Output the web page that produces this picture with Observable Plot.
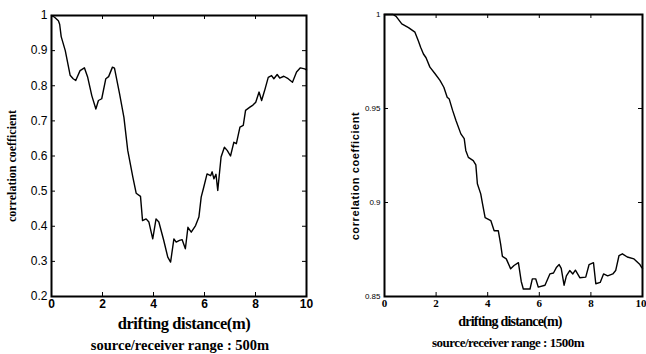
<!DOCTYPE html>
<html>
<head>
<meta charset="utf-8">
<script src="https://cdn.jsdelivr.net/npm/d3@7"></script>
<script src="https://cdn.jsdelivr.net/npm/@observablehq/plot@0.6"></script>
<style>
  html, body { margin: 0; padding: 0; background: #fff; }
  #wrap { position: relative; width: 646px; height: 354px; overflow: hidden; background: #fff; }
  .panel { position: absolute; top: 0; }
  .lbl { position: absolute; white-space: nowrap; color: #000; font-family: "Liberation Serif", "DejaVu Serif", serif; font-weight: bold; transform: translate(-50%, -50%); }
  .ylbl { position: absolute; white-space: nowrap; color: #000; font-weight: bold; transform: translate(-50%, -50%) rotate(-90deg); }
</style>
</head>
<body>
<div id="wrap"></div>
<script>
// ---- Left panel: source/receiver range 500 m ----
const leftDist = [0, 0.12, 0.27, 0.32, 0.38, 0.54, 0.73, 0.85, 0.95, 1.12, 1.29, 1.42, 1.58, 1.74, 1.84, 1.97, 2.13, 2.24, 2.39, 2.47, 2.67, 2.84, 2.99, 3.19, 3.32, 3.49, 3.57, 3.71, 3.82, 3.97, 4.1, 4.21, 4.4, 4.56, 4.67, 4.8, 4.89, 5.02, 5.12, 5.25, 5.35, 5.48, 5.65, 5.78, 5.87, 5.97, 6.1, 6.24, 6.3, 6.37, 6.45, 6.52, 6.65, 6.78, 6.89, 7.02, 7.15, 7.25, 7.39, 7.52, 7.61, 7.78, 7.9, 8.01, 8.14, 8.24, 8.36, 8.5, 8.63, 8.72, 8.85, 8.95, 9.11, 9.28, 9.45, 9.61, 9.76, 9.93, 10];
const leftCorr = [1.0, 0.995, 0.985, 0.975, 0.94, 0.90, 0.83, 0.82, 0.815, 0.843, 0.851, 0.824, 0.772, 0.734, 0.758, 0.763, 0.82, 0.826, 0.853, 0.85, 0.777, 0.71, 0.616, 0.54, 0.494, 0.485, 0.416, 0.421, 0.412, 0.364, 0.421, 0.412, 0.36, 0.312, 0.298, 0.364, 0.355, 0.36, 0.362, 0.336, 0.397, 0.383, 0.402, 0.426, 0.483, 0.511, 0.549, 0.544, 0.555, 0.535, 0.548, 0.502, 0.597, 0.625, 0.616, 0.60, 0.639, 0.635, 0.682, 0.687, 0.73, 0.739, 0.745, 0.753, 0.782, 0.758, 0.787, 0.824, 0.829, 0.82, 0.832, 0.822, 0.827, 0.82, 0.81, 0.839, 0.851, 0.848, 0.845];
const leftXTicks = [0, 2, 4, 6, 8, 10];
const leftYTicks = [0.2, 0.3, 0.4, 0.5, 0.6, 0.7, 0.8, 0.9, 1];
const leftYTickLabels = ["0.2", "0.3", "0.4", "0.5", "0.6", "0.7", "0.8", "0.9", "1"];

// ---- Right panel: source/receiver range 1500 m ----
const rightDist = [0, 0.33, 0.45, 0.67, 0.93, 1.18, 1.31, 1.4, 1.51, 1.61, 1.76, 1.96, 2.15, 2.3, 2.43, 2.51, 2.64, 2.77, 2.96, 3.09, 3.15, 3.25, 3.44, 3.54, 3.6, 3.73, 3.8, 3.9, 4.12, 4.25, 4.41, 4.5, 4.57, 4.72, 4.89, 5.02, 5.19, 5.3, 5.38, 5.64, 5.73, 5.86, 5.96, 6.22, 6.41, 6.55, 6.67, 6.77, 6.85, 6.96, 7.05, 7.18, 7.3, 7.4, 7.57, 7.8, 7.93, 8.1, 8.19, 8.36, 8.49, 8.65, 8.85, 8.96, 9.09, 9.22, 9.41, 9.67, 9.9, 9.96, 10];
const rightCorr = [1.0, 1.0, 0.999, 0.995, 0.993, 0.9906, 0.986, 0.9826, 0.979, 0.977, 0.972, 0.9685, 0.965, 0.9613, 0.956, 0.955, 0.949, 0.9436, 0.9365, 0.934, 0.9277, 0.924, 0.9223, 0.920, 0.91, 0.9046, 0.8993, 0.892, 0.8904, 0.885, 0.885, 0.878, 0.8713, 0.87, 0.8647, 0.8665, 0.868, 0.858, 0.854, 0.854, 0.8594, 0.8594, 0.855, 0.856, 0.862, 0.8625, 0.8656, 0.867, 0.865, 0.856, 0.861, 0.8638, 0.862, 0.864, 0.86, 0.8603, 0.867, 0.868, 0.8568, 0.8575, 0.862, 0.861, 0.862, 0.8638, 0.8718, 0.8727, 0.871, 0.87, 0.867, 0.8656, 0.865];
const rightXTicks = [0, 2, 4, 6, 8, 10];
const rightYTicks = [0.85, 0.9, 0.95, 1];
const rightYTickLabels = ["0.85", "0.9", "0.95", "1"];

const texts = {
  xLabel: "drifting distance(m)",
  yLabel: "correlation coefficient",
  leftCaption: "source/receiver range : 500m",
  rightCaption: "source/receiver range : 1500m"
};

const leftData = leftDist.map((d, i) => ({d, c: leftCorr[i]}));
const rightData = rightDist.map((d, i) => ({d, c: rightCorr[i]}));

function panel({data, xTicks, yTicks, yLabels, yDomain, width, height, mL, mR, mT, mB, yFont, xFont, xFontFamily, yFontFamily, lastEnd}) {
  const plotW = width - mL - mR;
  const plotH = height - mT - mB;
  const xMain = lastEnd ? xTicks.slice(0, -1) : xTicks;
  const marks = [
    Plot.axisX({ticks: xMain, tickSize: 0, tickPadding: 3, label: null, tickFormat: d => String(d),
      fontSize: xFont, fontWeight: "bold", fontFamily: xFontFamily}),
    Plot.axisY({ticks: yTicks, tickSize: 0, tickPadding: 4, label: null,
      tickFormat: d => yLabels[yTicks.indexOf(d)] ?? "", fontSize: yFont, fontFamily: yFontFamily}),
    Plot.tickX(xTicks, {x: d => d, insetTop: plotH - 4, stroke: "#000", strokeWidth: 1}),
    Plot.tickX(xTicks, {x: d => d, insetBottom: plotH - 4, stroke: "#000", strokeWidth: 1}),
    Plot.tickY(yTicks, {y: d => d, insetRight: plotW - 4, stroke: "#000", strokeWidth: 1}),
    Plot.tickY(yTicks, {y: d => d, insetLeft: plotW - 4, stroke: "#000", strokeWidth: 1}),
    Plot.line(data, {x: "d", y: "c", stroke: "#000", strokeWidth: 1.4, curve: "linear"}),
    Plot.frame({stroke: "#000", strokeWidth: 2})
  ];
  if (lastEnd) {
    marks.push(Plot.axisX({ticks: xTicks.slice(-1), tickSize: 0, tickPadding: 3, label: null,
      tickFormat: d => String(d), textAnchor: "end", dx: 4,
      fontSize: xFont, fontWeight: "bold", fontFamily: xFontFamily}));
  }
  return Plot.plot({
    width, height,
    marginLeft: mL, marginRight: mR, marginTop: mT, marginBottom: mB,
    style: {background: "transparent", color: "#000", overflow: "visible"},
    x: {domain: [0, 10]},
    y: {domain: yDomain},
    marks
  });
}

const wrap = document.getElementById("wrap");

const left = panel({data: leftData, xTicks: leftXTicks, yTicks: leftYTicks, yLabels: leftYTickLabels,
  yDomain: [0.2, 1], width: 320, height: 320, mL: 51, mR: 14, mT: 15, mB: 24,
  yFont: 12, xFont: 12, xFontFamily: "Liberation Sans, Arial, sans-serif", yFontFamily: "Liberation Sans, Arial, sans-serif"});
left.classList.add("panel");
left.style.left = "0px";
wrap.appendChild(left);

const right = panel({data: rightData, xTicks: rightXTicks, yTicks: rightYTicks, yLabels: rightYTickLabels,
  yDomain: [0.85, 1], width: 316, height: 320, mL: 54, mR: 4, mT: 14, mB: 24,
  yFont: 8, xFont: 11, xFontFamily: "Liberation Serif, serif", yFontFamily: "Liberation Sans, Arial, sans-serif", lastEnd: true});
right.classList.add("panel");
right.style.left = "330px";
wrap.appendChild(right);

function addText(cls, text, x, y, size, family, extra) {
  const el = document.createElement("div");
  el.className = cls;
  el.textContent = text;
  el.style.left = x + "px";
  el.style.top = y + "px";
  el.style.fontSize = size + "px";
  if (family) el.style.fontFamily = family;
  if (extra) Object.assign(el.style, extra);
  wrap.appendChild(el);
}

addText("lbl", texts.xLabel, 184, 324, 16.5, null, {letterSpacing: "-0.4px"});
addText("lbl", texts.leftCaption, 180, 345, 14.5, null, {});
addText("lbl", texts.xLabel, 510, 322, 14, null, {letterSpacing: "-0.8px"});
addText("lbl", texts.rightCaption, 508, 343, 13, null, {letterSpacing: "-0.5px"});
addText("ylbl", texts.yLabel, 12, 166, 12, "Liberation Serif, serif", {});
addText("ylbl", texts.yLabel, 355, 176, 11, "Liberation Sans, Arial, sans-serif", {letterSpacing: "0.6px"});
</script>
</body>
</html>
